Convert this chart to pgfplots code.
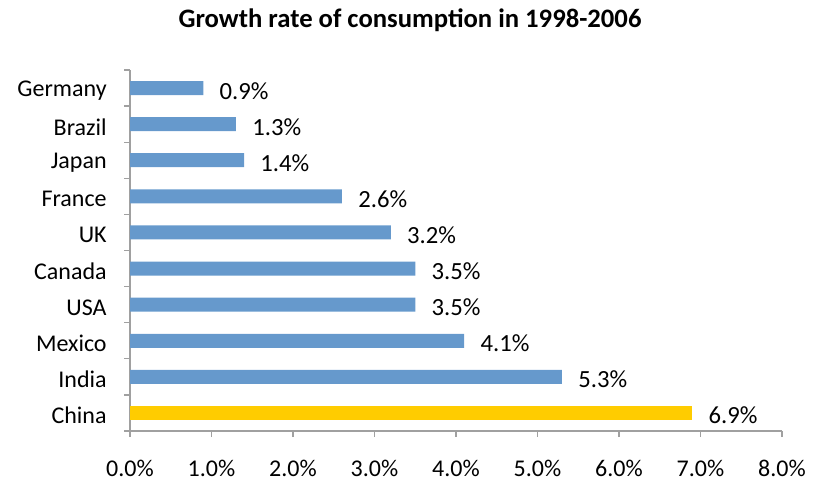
\documentclass[border=0pt]{standalone}
\usepackage{fontspec}
\setmainfont{Carlito}
\usepackage{pgfplots}
\pgfplotsset{compat=1.18}
\definecolor{barblue}{HTML}{6699CC}
\definecolor{baryellow}{HTML}{FFCC00}
\definecolor{axgray}{HTML}{A0A0A0}
\begin{document}
\begin{tikzpicture}[font=\fontsize{18}{21}\selectfont]
\begin{axis}[
  scale only axis, width=489pt, height=270.75pt,
  xbar, bar width=10.5pt, bar shift=0pt,
  xmin=0, xmax=8, ymin=-0.5, ymax=9.5,
  axis x line*=bottom, axis y line*=left,
  axis line style={draw=axgray, line width=1pt, -},
  xtick={0,1,...,8},
  xticklabels={0.0\%,1.0\%,2.0\%,3.0\%,4.0\%,5.0\%,6.0\%,7.0\%,8.0\%},
  ytick={0,1,...,9},
  yticklabels={China,India,Mexico,USA,Canada,UK,France,Japan,Brazil,Germany},
  minor ytick={-0.5,0.5,...,9.5},
  tick align=outside,
  major tick length=4.5pt, minor tick length=4.5pt,
  tick style={draw=axgray, line width=1pt},
  every major y tick/.style={draw=none},
  /pgf/number format/assume math mode=true,
  xticklabel style={yshift=-14pt},
  yticklabel style={xshift=-9.5pt, yshift=-2pt},
  point meta=x,
  nodes near coords={\pgfmathprintnumber[fixed,fixed zerofill,precision=1]{\pgfplotspointmeta}\%},
  nodes near coords style={anchor=west, xshift=8.75pt, yshift=-2pt, text=black, font=\fontsize{18.5}{21}\selectfont},
  clip=false,
]
\addplot[draw=none, fill=barblue] coordinates {
  (5.3,1) (4.1,2) (3.5,3) (3.5,4) (3.2,5) (2.6,6) (1.4,7) (1.3,8) (0.9,9)
};
\addplot[draw=none, fill=baryellow] coordinates {
  (6.9,0)
};
\end{axis}
\node[font=\bfseries\fontsize{20}{24}\selectfont] at ([xshift=210pt,yshift=37.5pt]current axis.north west) {Growth rate of consumption in 1998-2006};
\pgfresetboundingbox
\useasboundingbox ([xshift=-97.5pt,yshift=-37.5pt]current axis.south west) rectangle ([xshift=24pt,yshift=52.5pt]current axis.north east);
\end{tikzpicture}
\end{document}
